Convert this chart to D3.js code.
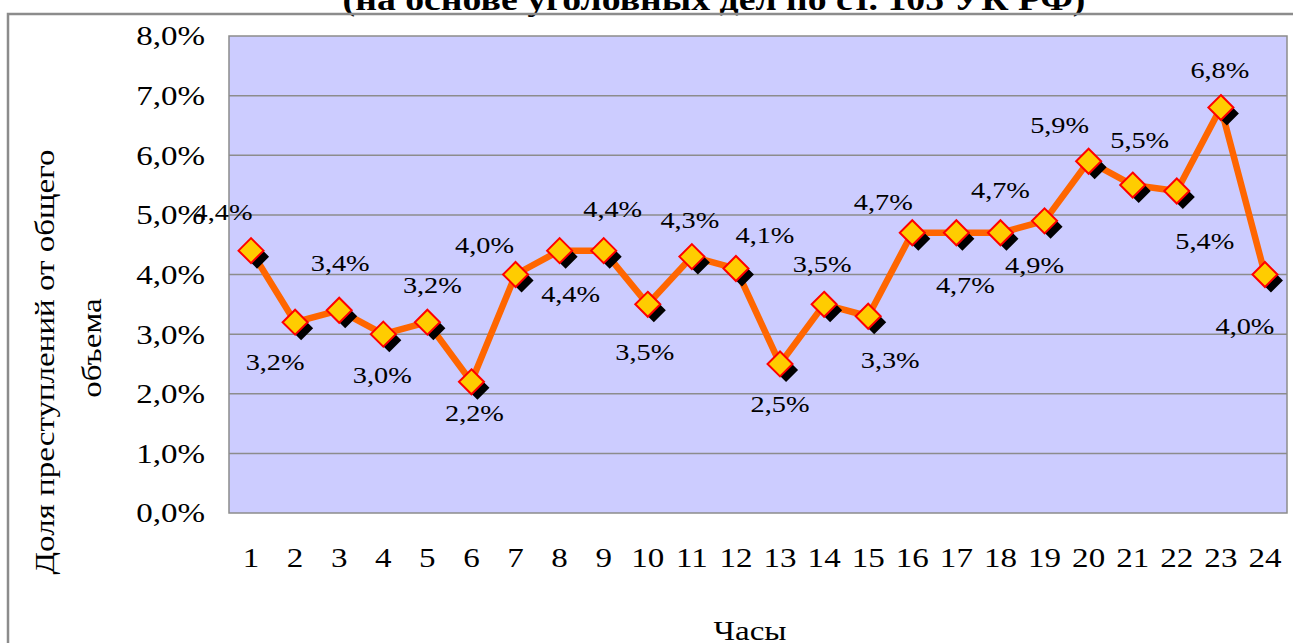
<!DOCTYPE html>
<html>
<head>
<meta charset="utf-8">
<script src="https://cdn.jsdelivr.net/npm/d3@7"></script>
<style>
  body { margin: 0; background: #fff; }
  svg { display: block; }
</style>
</head>
<body>
<svg id="chart" width="1293" height="643"></svg>
<script>
// data
var hours = ["1","2","3","4","5","6","7","8","9","10","11","12","13","14","15","16","17","18","19","20","21","22","23","24"];
var shares = [4.4, 3.2, 3.4, 3.0, 3.2, 2.2, 4.0, 4.4, 4.4, 3.5, 4.3, 4.1, 2.5, 3.5, 3.3, 4.7, 4.7, 4.7, 4.9, 5.9, 5.5, 5.4, 6.8, 4.0];
var yTicks = [0, 1, 2, 3, 4, 5, 6, 7, 8];

// where each value label sits relative to its point (layout only)
var labelShift = [
  [-28, -38], [-20, 40], [1, -47], [-1, 41], [5, -37], [3, 31],
  [-31, -29], [11, 44], [9, -41], [-3, 48], [-2, -36], [29, -33],
  [0, 40], [-2, -40], [22, 44], [-29, -31], [9, 52], [0, -43],
  [-10, 44], [-29, -36], [7, -45], [28, 50], [-1, -37], [-20, 52]
];

var svg = d3.select('#chart');
var plotLeft = 229, plotRight = 1287, plotTop = 36, plotBottom = 513;
var wide = 1.18; // the original text is drawn wider than plain Times
var serif = '"Liberation Serif"';

var x = d3.scaleBand().domain(hours).range([plotLeft, plotRight]);
var y = d3.scaleLinear().domain([0, 8]).range([plotBottom, plotTop]);

var fmt = function(v) { return v.toFixed(1).replace('.', ',') + '%'; };

// title (cut off by the top edge)
svg.append('text')
  .attr('transform', 'translate(714,10) scale(' + wide + ',1)')
  .attr('text-anchor', 'middle')
  .style('font-family', serif)
  .style('font-size', '32px').style('font-weight', 'bold')
  .text('(на основе уголовных дел по ст. 105 УК РФ)');

// outer frame
svg.append('path')
  .attr('d', 'M8,660 L8,14 L1300,14')
  .attr('fill', 'none').attr('stroke', '#8c8c8c').attr('stroke-width', 2.5);

// plot area
svg.append('rect')
  .attr('x', plotLeft).attr('y', plotTop)
  .attr('width', plotRight - plotLeft).attr('height', plotBottom - plotTop)
  .attr('fill', '#ccccff').attr('stroke', '#8c8c8c').attr('stroke-width', 1.5);

svg.append('g').selectAll('line').data(yTicks.slice(1, -1)).enter().append('line')
  .attr('x1', plotLeft).attr('x2', plotRight)
  .attr('y1', function(d) { return y(d); })
  .attr('y2', function(d) { return y(d); })
  .attr('stroke', '#8c8c8c').attr('stroke-width', 1.5);

// y axis
var yAxis = svg.append('g')
  .attr('transform', 'translate(' + plotLeft + ',0)')
  .call(d3.axisLeft(y).tickValues(yTicks).tickSize(0).tickFormat(fmt));
yAxis.select('.domain').remove();
yAxis.selectAll('text')
  .attr('x', -24 / wide)
  .attr('transform', 'scale(' + wide + ',1)')
  .attr('fill', '#000')
  .style('font-family', serif)
  .style('font-size', '28px');

// x axis
var xAxis = svg.append('g')
  .attr('transform', 'translate(0,' + plotBottom + ')')
  .call(d3.axisBottom(x).tickSize(0).tickPadding(34));
xAxis.select('.domain').remove();
xAxis.selectAll('text')
  .attr('transform', 'scale(' + wide + ',1)')
  .attr('fill', '#000')
  .style('font-family', serif)
  .style('font-size', '28px');

// axis titles
svg.append('text')
  .attr('transform', 'translate(54,362) rotate(-90) scale(' + wide + ',1)')
  .attr('text-anchor', 'middle')
  .style('font-family', serif)
  .style('font-size', '28px')
  .text('Доля преступлений от общего');
svg.append('text')
  .attr('transform', 'translate(101,348) rotate(-90) scale(' + wide + ',1)')
  .attr('text-anchor', 'middle')
  .style('font-family', serif)
  .style('font-size', '28px')
  .text('объема');
svg.append('text')
  .attr('transform', 'translate(750,640) scale(' + wide + ',1)')
  .attr('text-anchor', 'middle')
  .style('font-family', serif)
  .style('font-size', '28px')
  .text('Часы');

var cx = function(d, i) { return x(hours[i]) + x.bandwidth() / 2; };

// line
svg.append('path')
  .datum(shares)
  .attr('fill', 'none').attr('stroke', '#ff6600').attr('stroke-width', 6.5)
  .attr('stroke-linejoin', 'round')
  .attr('d', d3.line().x(cx).y(function(d) { return y(d); }));

var diamond = function(px, py, r) {
  return 'M' + px + ',' + (py - r) + ' L' + (px + r) + ',' + py + ' L' + px + ',' + (py + r) + ' L' + (px - r) + ',' + py + 'Z';
};

// marker shadows
svg.append('g').selectAll('path').data(shares).enter().append('path')
  .attr('d', function(d, i) { return diamond(cx(d, i) + 6, y(d) + 6, 12); })
  .attr('fill', '#000');

// markers
svg.append('g').selectAll('path').data(shares).enter().append('path')
  .attr('d', function(d, i) { return diamond(cx(d, i), y(d), 12.5); })
  .attr('fill', '#ffcc00').attr('stroke', '#ff0000').attr('stroke-width', 2);

// value labels
svg.append('g').selectAll('text').data(shares).enter().append('text')
  .attr('transform', function(d, i) {
    return 'translate(' + (cx(d, i) + labelShift[i][0]) + ',' + (y(d) + labelShift[i][1]) + ') scale(' + wide + ',1)';
  })
  .attr('text-anchor', 'middle').attr('dominant-baseline', 'central')
  .style('font-family', serif)
  .style('font-size', '24px')
  .text(fmt);
</script>
</body>
</html>
